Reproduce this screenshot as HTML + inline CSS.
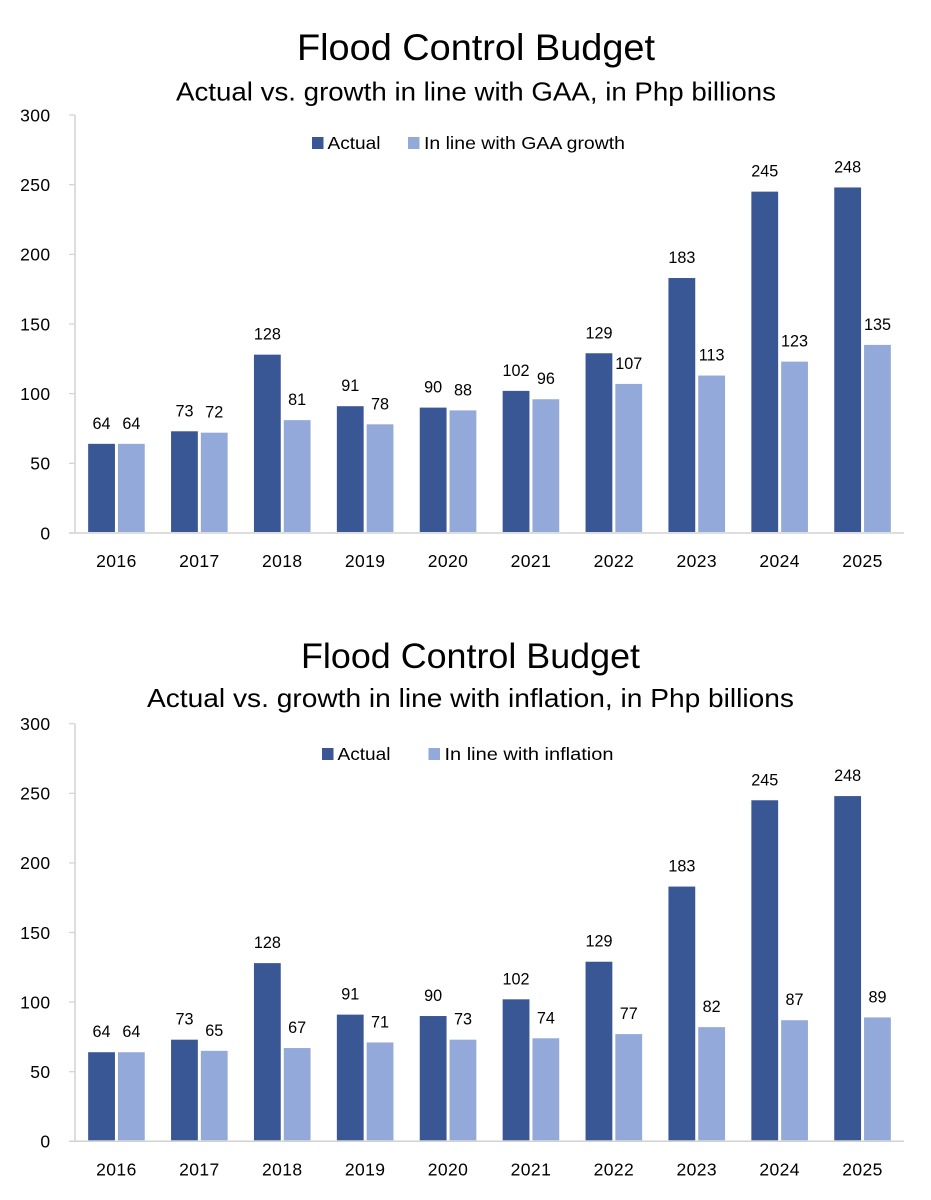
<!DOCTYPE html>
<html lang="en">
<head>
<meta charset="utf-8">
<title>Flood Control Budget</title>
<style>
  html, body { margin: 0; padding: 0; background: #fff; }
  #stage { display: block; width: 931px; height: 1200px; }
  text { font-family: "Liberation Sans", sans-serif; fill: #000; }
</style>
</head>
<body>
<svg id="stage" xmlns="http://www.w3.org/2000/svg" width="931" height="1200" viewBox="0 0 931 1200"></svg>
<script>
const years = ['2016','2017','2018','2019','2020','2021','2022','2023','2024','2025'];
const actualTop = [64,73,128,91,90,102,129,183,245,248];
const gaaGrowth = [64,72,81,78,88,96,107,113,123,135];
const actualBottom = [64,73,128,91,90,102,129,183,245,248];
const inflationGrowth = [64,65,67,71,73,74,77,82,87,89];
const yTicks = [0,50,100,150,200,250,300];

const NS = 'http://www.w3.org/2000/svg';
const stage = document.getElementById('stage');
const DARK = '#3A5795';
const LIGHT = '#93A9D9';
const AXIS = '#D2D2D2';

function make(parent, tag, attrs, txt) {
  const el = document.createElementNS(NS, tag);
  for (const k in attrs) el.setAttribute(k, attrs[k]);
  if (txt !== undefined) el.textContent = txt;
  parent.appendChild(el);
  return el;
}

function drawChart(cfg) {
  const g = make(stage, 'g', {});
  
  

  const left = 75, right = 904;
  const yScale = v => cfg.y0 - v * (cfg.y0 - cfg.y300) / 300;
  const band = (right - left) / years.length;
  const xCenter = i => left + band * (i + 0.5);
  const barW = 26.8, gap = 1.5;

  const title = make(g, 'text', {x: cfg.titleX, y: cfg.titleY, 'font-size': cfg.titleSize, textLength: cfg.titleLen, lengthAdjust: 'spacingAndGlyphs'}, 'Flood Control Budget');
  
  

  const sub = make(g, 'text', {x: cfg.subX, y: cfg.subY, 'font-size': 26, textLength: cfg.subLen, lengthAdjust: 'spacingAndGlyphs'}, cfg.subtitle);
  
  

  yTicks.forEach(t => {
    const y = yScale(t);
    const tick = make(g, 'line', {x1: left - 6, x2: left, y1: y, y2: y, stroke: AXIS, 'stroke-width': 1.2});
    
    
    const lab = make(g, 'text', {x: 50.5, y: y + 6.3, 'font-size': 17.5, 'text-anchor': 'end', 'letter-spacing': 0.4}, String(t));
    
    
  });

  years.forEach((yr, i) => {
    const c = xCenter(i);
    const a = cfg.actual[i], b = cfg.other[i];

    const barA = make(g, 'rect', {x: c - gap - barW, y: yScale(a), width: barW, height: cfg.y0 - 1 - yScale(a), fill: DARK});
    
    

    const barB = make(g, 'rect', {x: c + gap, y: yScale(b), width: barW, height: cfg.y0 - 1 - yScale(b), fill: LIGHT});
    
    

    const labA = make(g, 'text', {x: c - gap - barW / 2, y: yScale(a) - 15, 'font-size': 16.2, 'text-anchor': 'middle'}, String(a));
    
    

    const labB = make(g, 'text', {x: c + gap + barW / 2, y: yScale(b) - 15, 'font-size': 16.2, 'text-anchor': 'middle'}, String(b));
    
    

    const yl = make(g, 'text', {x: c, y: cfg.y0 + 34, 'font-size': 17.5, 'text-anchor': 'middle', 'letter-spacing': 0.4}, yr);
    
    
  });

  const yAxis = make(g, 'line', {x1: left, x2: left, y1: cfg.y300, y2: cfg.y0, stroke: AXIS, 'stroke-width': 1.5});
  
  

  const xAxis = make(g, 'line', {x1: left - 6, x2: right, y1: cfg.y0, y2: cfg.y0, stroke: AXIS, 'stroke-width': 1.5});
  
  

  const sw1 = make(g, 'rect', {x: cfg.leg1X, y: cfg.legY, width: 11.5, height: 12, fill: DARK});
  
  

  const t1 = make(g, 'text', {x: cfg.leg1X + 15.5, y: cfg.legY + 12, 'font-size': 17.5, textLength: 53, lengthAdjust: 'spacingAndGlyphs'}, 'Actual');
  
  

  const sw2 = make(g, 'rect', {x: cfg.leg2X, y: cfg.legY, width: 11.5, height: 12, fill: LIGHT});
  
  

  const t2 = make(g, 'text', {x: cfg.leg2X + 16, y: cfg.legY + 12, 'font-size': 17.5, textLength: cfg.leg2Len, lengthAdjust: 'spacingAndGlyphs'}, cfg.leg2Text);
  
  
}

drawChart({
  name: 'gaa-growth-chart',
  actual: actualTop, other: gaaGrowth,
  y0: 533, y300: 115,
  titleX: 297, titleY: 60, titleSize: 37.5, titleLen: 358,
  subtitle: 'Actual vs. growth in line with GAA, in Php billions',
  subX: 176, subY: 100.5, subLen: 600,
  legY: 137, leg1X: 312, leg2X: 408, leg2Text: 'In line with GAA growth', leg2Len: 201
});

drawChart({
  name: 'inflation-chart',
  actual: actualBottom, other: inflationGrowth,
  y0: 1141.3, y300: 723.7,
  titleX: 301, titleY: 668, titleSize: 35.5, titleLen: 339,
  subtitle: 'Actual vs. growth in line with inflation, in Php billions',
  subX: 147, subY: 707, subLen: 647,
  legY: 748, leg1X: 322, leg2X: 428.5, leg2Text: 'In line with inflation', leg2Len: 169
});
</script>
</body>
</html>
